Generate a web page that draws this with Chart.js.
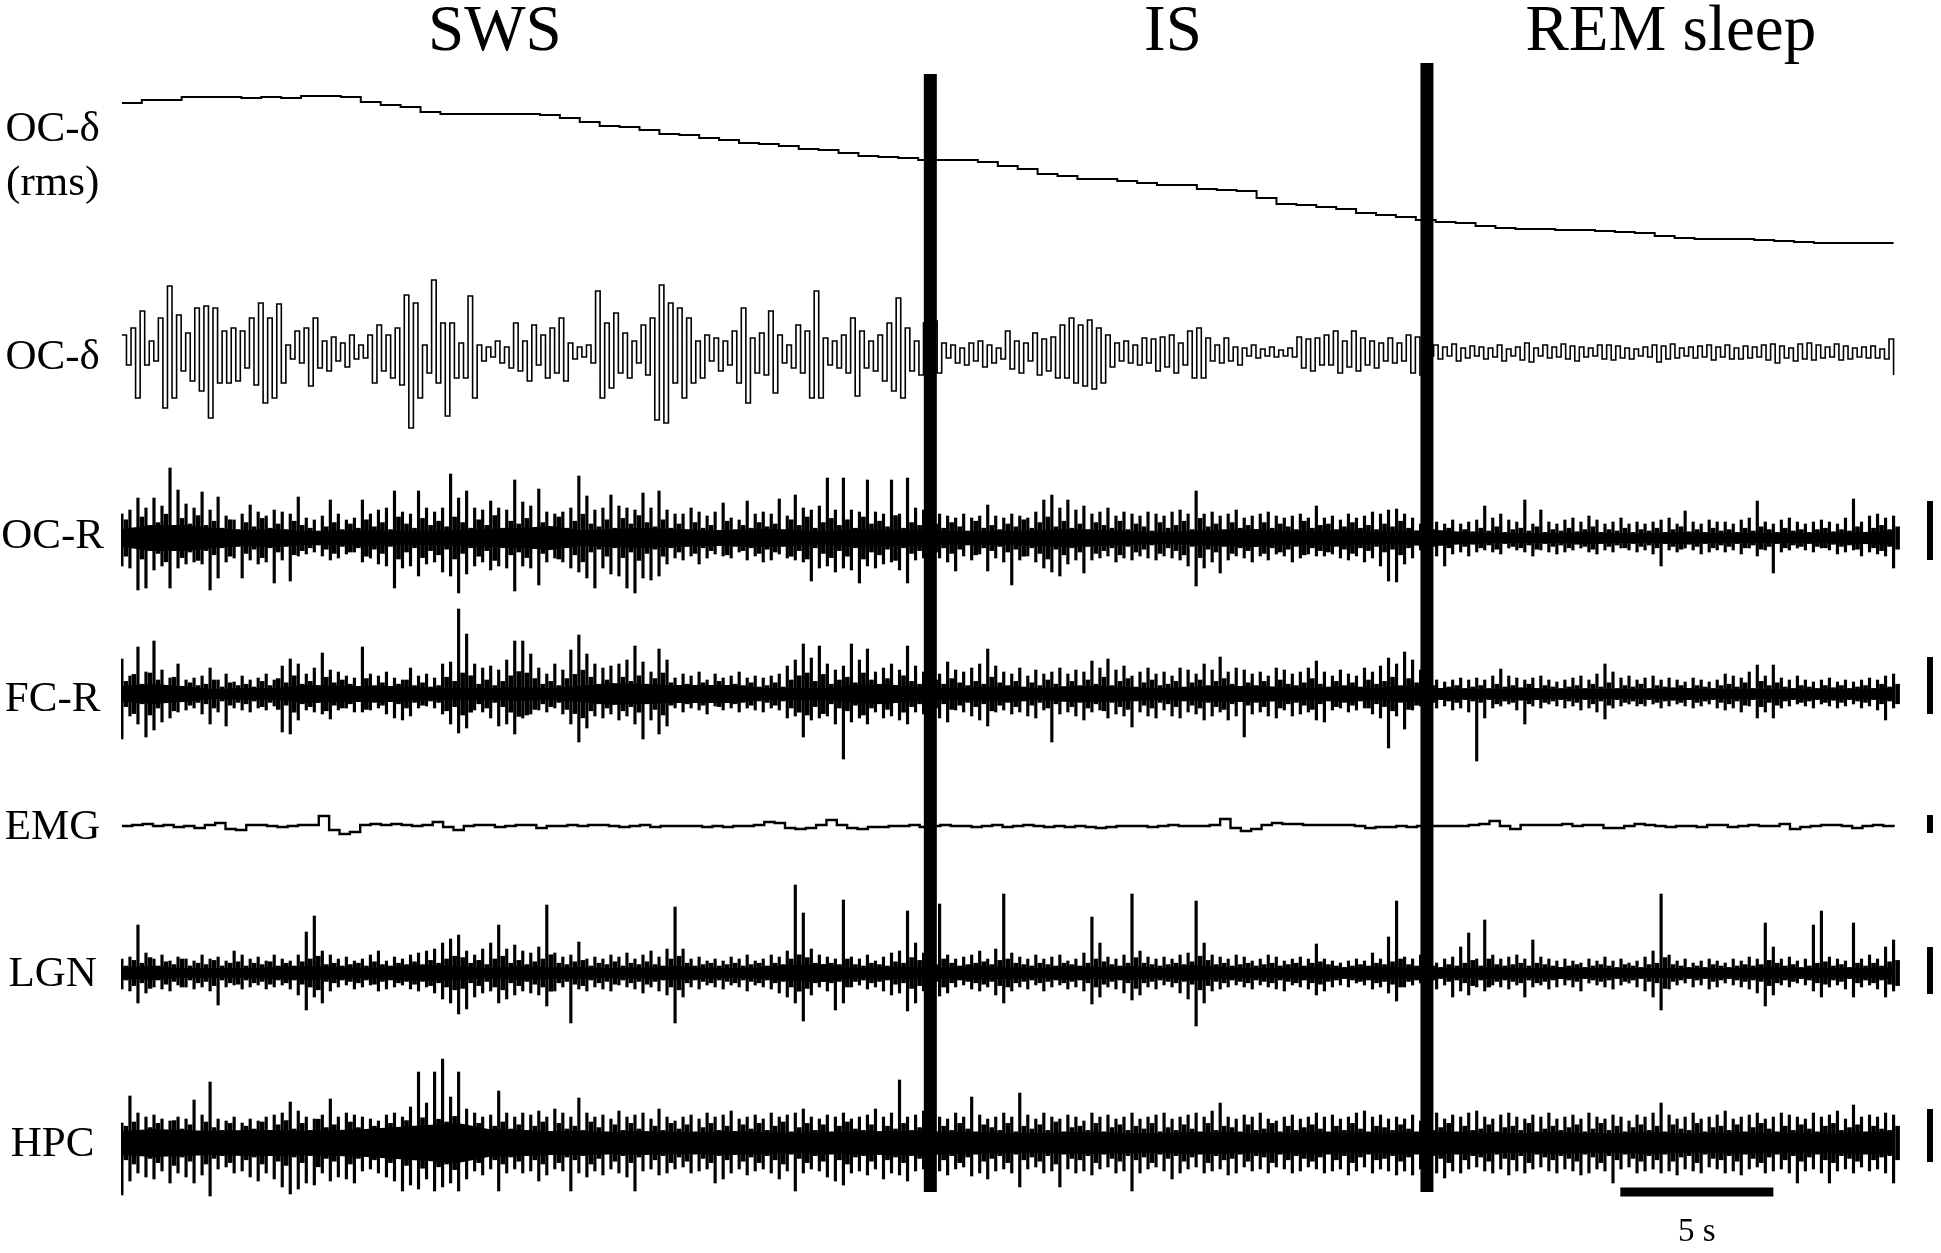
<!DOCTYPE html>
<html>
<head>
<meta charset="utf-8">
<title>Sleep traces</title>
<script src="https://cdn.jsdelivr.net/npm/chart.js@4"></script>
<style>
  html, body { margin: 0; padding: 0; background: #fff; }
  canvas { display: block; }
</style>
</head>
<body>
<canvas id="traces" width="1941" height="1253"></canvas>
<script>
// Stages and axis text
const stageLabels = ['SWS', 'IS', 'REM sleep'];
const stageCenters = [12.22, 34.38, 50.65]; // seconds
const stageEdges = [26.45, 42.68]; // seconds
const stageEdgeTops = [74, 63];
const channelLabels = [['OC-δ', '(rms)'], 'OC-δ', 'OC-R', 'FC-R', 'EMG', 'LGN', 'HPC'];
const channelLabelRows = [157, 358, 537, 700, 828, 975, 1145];

// Recording spans 57.9 s. Amplitudes are in display units above (+) or below (-) each channel's zero
const traceStart = 0.03;
const traceLength = 57.9;
const rmsZero = 250;
const deltaZero = 353;
const ocRZero = 538;
const fcRZero = 694;
const emgZero = 826;
const lgnZero = 973;
const hpcZero = 1143;

// Calibration bars at the right, and the 5 s bar
const calibTime = 59.12;
const calibTops = [501, 657, 815, 947, 1109];
const calibBottoms = [560, 714, 833, 994, 1162];
const timeBarStart = 49;
const timeBarEnd = 54;
const timeBarRow = 1192;
const edgeBottom = 1192;

const rmsLevel = [
  147, 150, 150, 153, 153, 153, 152, 153, 152, 154, 154, 153, 148, 145, 143, 138, 136, 136, 136, 136,
  136, 135, 132, 128, 124, 123, 120, 116, 115, 112, 110, 107, 106, 104, 101, 100, 97, 94, 93, 92,
  90, 90, 90, 88, 84, 81, 76, 74, 71, 71, 69, 67, 65, 65, 61, 60, 59, 52, 46, 45,
  43, 41, 37, 35, 33, 30, 28, 27, 24, 22, 21, 21, 20, 20, 19, 18, 17, 14, 12, 11,
  11, 11, 10, 9, 8, 7, 7, 7, 7, 7
];

const deltaTrace = [
  18,-12,25,-45,42,-12,12,-8,35,-55,67,-45,38,-18,20,-28,45,-38,47,-65,
  45,-30,22,-30,25,-28,22,-15,35,-32,50,-50,35,-45,49,-30,8,-6,22,-10,
  25,-33,35,-15,12,-18,16,-8,10,-14,18,-6,8,-5,18,-30,28,-18,18,-25,
  25,-32,58,-75,50,-45,8,-20,73,-30,30,-63,30,-25,10,-25,57,-45,8,-8,
  6,-4,12,-10,6,-15,30,-18,12,-28,28,-12,18,-25,25,-20,35,-28,10,-6,
  6,-4,8,-10,62,-45,30,-35,40,-20,20,-25,12,-10,28,-22,35,-67,68,-70,
  50,-30,45,-45,35,-30,12,-25,18,-8,15,-18,12,-12,22,-30,45,-50,15,-20,
  20,-22,42,-40,18,-10,8,-15,28,-20,22,-45,62,-45,15,-12,12,-15,18,-20,
  35,-43,22,-15,12,-18,18,-28,30,-38,55,-45,25,-18,12,-22,30,-20,32,-20,
  10,-5,8,-10,5,-12,10,-8,12,-14,8,-10,5,-6,22,-16,12,-20,10,-8,
  20,-22,14,-18,16,-25,28,-25,35,-30,28,-33,33,-36,25,-30,18,-14,10,-8,
  12,-10,8,-12,15,-10,14,-18,16,-14,18,-20,10,-12,22,-25,25,-25,15,-8,
  8,-10,15,-8,6,-12,5,-3,8,-5,4,-3,6,-4,3,-3,5,-4,16,-15,
  14,-18,15,-12,18,-12,22,-20,12,-14,22,-18,15,-12,12,-15,10,-8,15,-10,
  10,-8,18,-20,16,-22,4,-3,8,-6,6,-3,9,-8,5,-5,7,-3,6,-6,
  5,-4,8,-8,4,-3,6,-7,10,-9,5,-3,8,-5,6,-4,9,-6,7,-8,
  6,-4,5,-3,8,-6,8,-7,7,-5,5,-6,4,-3,6,-4,8,-9,7,-6,
  9,-5,5,-3,6,-5,7,-4,8,-7,6,-4,8,-6,5,-6,7,-5,6,-4,
  8,-7,9,-10,7,-5,5,-8,9,-6,10,-7,8,-5,6,-4,9,-7,7,-6,
  5,-4,6,-5,7,-5,4,-6,14,-22
];

const emgTrace = [
  0,1,2,0,1,-1,0,-2,1,3,-3,-4,1,1,0,-1,0,1,1,10,-4,-8,-6,1,2,1,2,1,0,1,
  4,-1,-4,0,1,1,-1,0,1,1,-2,0,0,1,0,1,1,0,-1,0,1,-1,0,0,0,0,-1,0,-1,0,
  0,1,4,3,-2,-3,-2,1,6,1,-2,-3,-1,-1,0,0,1,-1,0,1,0,0,-1,0,1,-1,0,1,0,-1,
  0,-1,0,-1,-2,-1,0,0,0,-1,0,1,0,0,0,1,7,-2,-5,-3,1,3,2,2,1,1,1,1,1,0,
  -2,-1,-1,0,-1,0,0,0,0,0,1,2,5,0,-3,1,1,1,1,2,0,1,1,-2,-2,0,2,1,0,-1,
  0,0,-1,1,1,-1,0,1,0,0,2,-3,-1,0,1,1,0,-2,0,1,0,-1
];

const ocRHigh = [
  24,28,40,30,40,32,70,48,34,30, 46,28,41,22,18,24,33,26,22,28,
  26,24,41,20,18,22,38,24,18,20, 38,24,28,30,47,26,24,47,30,26,
  30,64,40,47,30,28,37,30,28,58, 36,32,49,26,24,26,30,62,42,28,
  30,43,32,30,28,45,30,47,28,24, 24,30,26,22,26,35,20,18,37,24,
  26,24,39,22,43,30,28,32,60,28, 60,28,26,58,26,24,58,24,60,30,
  28,22,24,22,20,24,20,22,33,22, 20,24,22,20,26,38,43,30,38,28,
  32,24,26,30,22,26,24,22,26,24, 22,26,28,24,47,24,26,22,24,28,
  20,22,24,26,22,20,22,24,20,32, 20,22,18,24,20,22,26,24,28,29,
  24,20,14,12,16,14,18,14,16,18, 32,20,24,18,16,38,14,28,16,14,
  18,20,16,22,18,14,16,20,14,16, 14,16,18,20,14,27,16,14,18,16,
  16,14,18,20,37,16,14,18,20,16, 14,16,18,16,14,20,39,16,22,24,
  20,22
];
const ocRLow = [
  -28,-30,-52,-50,-32,-28,-50,-30,-26,-24, -26,-52,-40,-24,-20,-40,-22,-26,-24,-45,
  -22,-43,-18,-16,-14,-18,-22,-20,-16,-14, -24,-20,-26,-28,-50,-30,-28,-38,-26,-24,
  -34,-38,-55,-36,-28,-24,-32,-28,-30,-53, -28,-30,-47,-24,-20,-24,-30,-34,-40,-50,
  -30,-36,-38,-50,-55,-40,-42,-38,-26,-20, -22,-18,-26,-20,-16,-18,-20,-14,-22,-18,
  -24,-22,-16,-20,-22,-24,-43,-30,-28,-34, -30,-32,-45,-28,-30,-26,-24,-32,-45,-22,
  -20,-18,-20,-24,-33,-18,-22,-16,-33,-20, -24,-47,-22,-18,-24,-30,-34,-38,-26,-22,
  -35,-22,-20,-18,-24,-20,-22,-18,-20,-22, -18,-20,-22,-28,-48,-30,-24,-35,-22,-18,
  -20,-24,-18,-22,-16,-18,-24,-20,-16,-18, -18,-16,-20,-22,-18,-24,-20,-28,-43,-44,
  -26,-20,-12,-14,-18,-28,-16,-14,-18,-14, -12,-14,-16,-10,-12,-14,-18,-12,-14,-16,
  -14,-12,-10,-14,-16,-12,-14,-10,-12,-14, -12,-16,-28,-12,-14,-10,-12,-16,-14,-12,
  -14,-12,-16,-10,-18,-12,-35,-14,-12,-10, -12,-14,-10,-12,-16,-14,-12,-18,-14,-16,
  -18,-30
];
const ocRMid = [
  26,14,30,18,22,34,16,28,20,32, 18,24,14,26,12,22,16,28,14,20,
  12,24,18,14,10,16,22,12,20,14, 26,16,22,12,30,20,14,28,18,24,
  16,30,22,14,26,18,32,14,24,20, 28,12,22,16,30,14,24,34,20,16,
  26,14,28,20,32,22,16,26,14,20, 12,22,14,18,10,24,12,18,14,22,
  16,20,12,26,18,30,14,22,28,18, 26,14,30,20,24,16,32,14,22,18,
  12,20,14,22,16,10,24,14,18,12, 20,16,26,14,22,30,16,24,14,20,
  12,22,18,14,24,12,20,16,10,22, 14,18,24,12,28,16,20,12,22,14,
  18,12,22,14,20,16,12,24,14,18, 20,12,16,22,14,18,12,20,16,24,
  14,10,8,12,10,14,8,12,9,14, 10,16,8,12,14,10,16,8,12,10,
  14,9,12,16,8,12,10,14,8,12, 10,14,8,12,16,9,12,8,14,10,
  12,8,14,10,16,12,8,14,10,12, 8,12,14,9,12,10,16,8,14,18,
  12,16
];
const ocRCore = [
  9,13,13,10,8,9,7,7,8,7, 7,8,9,10,12,8,9,10,9,8, 8,9,8,7,9,8,8,
  7,7,7,8,9,8,7,6,7,8,9,7,7,8,6,7,8,
  6,5,5,5,6,5,5,6,5,5,5,5,5,6,7
];

const fcRHigh = [
  35,18,47,22,53,24,16,30,14,16, 18,26,14,20,12,18,14,16,20,14,
  28,35,30,20,26,41,24,22,18,16, 47,20,18,22,16,14,26,18,20,16,
  30,32,85,60,30,26,28,24,34,53, 53,40,26,20,30,24,44,59,40,30,
  26,28,30,34,48,32,22,45,34,16, 20,18,22,14,20,16,18,22,16,18,
  16,18,20,28,34,50,36,48,30,24, 28,50,34,45,22,26,30,24,48,28,
  22,24,20,32,24,22,26,30,45,28, 22,20,26,18,24,20,22,26,20,24,
  22,33,26,35,24,28,18,22,26,20, 22,18,26,24,20,30,24,37,22,26,
  24,20,22,18,26,24,20,22,26,33, 22,18,24,20,18,26,22,28,36,30,
  42,34,24,16,14,12,14,16,14,16, 14,18,25,18,16,14,16,18,14,12,
  14,16,18,14,20,30,22,16,18,14, 16,18,14,16,14,12,16,14,12,14,
  20,18,16,22,29,18,29,16,14,18, 14,12,14,16,12,14,12,14,16,14,
  18,20
];
const fcRLow = [
  -45,-22,-30,-43,-36,-28,-24,-18,-16,-14, -20,-30,-18,-32,-14,-16,-18,-14,-16,-12,
  -38,-40,-26,-16,-18,-20,-25,-16,-14,-18, -18,-16,-14,-20,-24,-26,-22,-14,-12,-14,
  -20,-30,-39,-34,-16,-18,-24,-32,-30,-40, -24,-20,-16,-18,-14,-20,-30,-48,-34,-22,
  -24,-20,-26,-22,-30,-45,-26,-40,-32,-14, -18,-14,-16,-20,-12,-16,-14,-18,-14,-16,
  -18,-14,-16,-24,-22,-43,-26,-24,-22,-30, -65,-28,-24,-30,-18,-24,-22,-26,-30,-18,
  -20,-18,-24,-28,-16,-18,-22,-26,-32,-18, -16,-20,-18,-22,-24,-16,-48,-20,-18,-22,
  -26,-18,-16,-24,-20,-22,-33,-18,-22,-24, -16,-22,-24,-18,-20,-26,-22,-18,-26,-22,
  -43,-20,-18,-22,-24,-16,-22,-20,-18,-26, -28,-16,-14,-18,-16,-14,-20,-24,-54,-22,
  -35,-16,-12,-10,-14,-12,-16,-14,-18,-67, -24,-14,-12,-10,-16,-30,-12,-14,-10,-12,
  -14,-12,-16,-14,-18,-25,-14,-12,-10,-12, -12,-10,-14,-12,-10,-12,-14,-12,-10,-14,
  -16,-14,-18,-12,-24,-18,-24,-14,-12,-10, -12,-14,-10,-12,-14,-12,-10,-14,-12,-16,
  -26,-14
];
const fcRMid = [
  18,28,14,30,20,12,24,10,16,12, 14,20,10,16,12,14,10,18,12,22,
  16,26,14,18,12,24,16,20,14,10, 22,12,16,10,14,20,12,16,10,12,
  24,18,30,26,14,20,12,18,26,32, 30,22,14,18,12,22,28,34,24,14,
  20,14,24,18,26,14,22,30,16,10, 14,10,16,12,18,10,14,12,16,10,
  12,16,10,20,26,30,18,28,14,20, 24,16,30,20,14,22,12,26,18,14,
  12,20,14,22,16,12,18,14,24,16, 12,18,10,16,12,20,14,10,18,12,
  20,14,24,12,18,22,10,16,20,12, 14,18,10,16,20,12,18,22,14,10,
  16,12,18,10,20,14,12,16,22,14, 10,18,12,16,10,20,14,18,24,12,
  22,16,10,12,8,10,12,8,10,12, 8,14,10,12,9,14,8,12,10,8,
  10,12,8,14,10,16,8,12,10,14, 8,12,10,9,12,8,12,10,8,12,
  14,10,16,8,18,12,16,10,8,12, 10,8,12,9,12,8,10,12,8,14,
  10,14
];
const fcRCore = [
  8,10,8,5,6,6,9,8,8,8, 6,6,6,7,6,8,11,10,9,9, 9,6,6,6,9,10,7,
  6,7,8,6,8,8,7,6,7,8,8,7,6,8,6,8,6,
  5,5,6,5,5,5,5,6,5,5,5,5,5,5,6
];

const lgnHigh = [
  14,16,48,20,14,18,12,16,14,12, 18,14,16,12,22,18,14,16,12,18,
  14,12,18,41,57,22,18,14,16,12, 14,18,22,12,16,14,18,20,22,24,
  30,34,38,22,18,24,30,48,24,28, 22,20,26,68,20,16,18,31,14,16,
  14,18,16,20,14,18,22,16,24,66, 24,14,16,12,14,12,16,14,18,12,
  14,18,16,22,88,60,24,18,16,14, 73,16,14,18,12,16,20,22,62,30,
  20,22,69,18,14,16,18,22,14,24, 79,20,16,14,18,14,16,18,12,14,
  20,56,30,16,14,18,79,22,16,14, 16,14,18,20,72,30,18,16,14,18,
  16,12,14,18,16,12,14,16,14,29, 14,12,10,12,14,12,20,14,36,72,
  16,14,18,12,10,14,16,26,40,14, 53,18,14,16,18,14,33,16,14,12,
  14,12,10,14,12,16,12,14,10,12, 16,22,79,18,12,14,10,12,14,12,
  10,14,12,16,14,50,26,14,16,12, 14,48,62,16,14,12,50,14,18,14,
  26,33
];
const lgnLow = [
  -16,-18,-30,-20,-14,-16,-18,-12,-14,-16, -14,-18,-32,-14,-12,-16,-14,-12,-16,-14,
  -12,-16,-22,-37,-24,-30,-18,-14,-12,-16, -14,-12,-18,-16,-14,-12,-16,-18,-14,-20,
  -26,-30,-41,-36,-24,-20,-18,-30,-26,-22, -18,-20,-22,-33,-18,-14,-50,-16,-18,-14,
  -16,-18,-12,-14,-16,-20,-14,-18,-22,-50, -24,-14,-16,-12,-14,-16,-12,-14,-18,-12,
  -14,-16,-20,-24,-30,-48,-22,-14,-18,-37, -30,-14,-12,-16,-14,-18,-22,-20,-38,-30,
  -18,-16,-23,-20,-14,-12,-16,-18,-14,-22, -30,-18,-14,-16,-12,-18,-14,-12,-16,-14,
  -18,-31,-24,-14,-16,-20,-27,-22,-14,-16, -12,-14,-20,-26,-53,-30,-18,-16,-14,-12,
  -14,-16,-12,-14,-16,-18,-12,-14,-16,-22, -18,-14,-12,-14,-10,-12,-16,-14,-20,-28,
  -14,-12,-10,-14,-16,-12,-24,-18,-22,-14, -18,-12,-14,-16,-12,-24,-14,-12,-16,-14,
  -12,-14,-18,-10,-12,-14,-16,-12,-10,-14, -18,-24,-37,-16,-12,-10,-14,-12,-16,-14,
  -10,-12,-14,-16,-20,-33,-22,-12,-14,-10, -12,-18,-24,-14,-12,-16,-24,-14,-12,-16,
  -24,-18
];
const lgnMid = [
  10,18,14,22,10,16,12,20,10,14, 12,18,10,14,16,10,14,12,16,10,
  14,10,16,20,24,12,14,10,12,14, 10,16,12,10,14,12,16,12,18,14,
  20,24,22,14,18,12,20,24,14,18, 12,16,20,26,14,12,16,18,10,14,
  12,16,10,14,12,16,12,10,20,24, 14,10,12,14,10,12,14,10,12,14,
  10,14,12,20,26,22,14,10,14,12, 20,12,10,14,12,10,16,14,22,18,
  14,12,20,14,10,12,14,16,12,18, 20,14,12,10,14,12,10,14,12,10,
  14,20,16,12,10,14,22,14,12,10, 12,14,12,16,24,18,12,14,10,12,
  14,10,12,14,10,12,14,10,14,16, 12,10,8,10,12,10,14,12,16,20,
  12,10,14,10,8,12,10,14,18,10, 20,12,10,12,14,10,14,12,10,8,
  10,12,8,10,12,10,8,12,10,8, 12,14,22,12,10,8,10,8,12,10,
  8,10,12,10,12,18,14,10,12,8, 10,14,16,10,12,8,14,10,14,10,
  16,18
];
const lgnCore = [
  6,7,5,5,5,6,7,6,5,7, 8,7,5,7,6,6,5,6,7,6, 5,6,8,9,5,6,6,
  6,7,6,5,7,6,7,5,8,6,5,5,6,5,6,6,5,
  5,6,5,6,5,5,5,5,5,5,6,5,5,5,6
];

const hpcHigh = [
  20,47,30,26,28,24,22,26,24,43, 28,61,24,22,26,20,24,22,26,28,
  30,41,32,26,24,28,44,26,30,28, 26,24,22,28,30,26,36,71,40,71,
  84,46,71,34,30,26,28,52,30,26, 30,28,32,26,34,30,26,45,30,26,
  28,24,32,26,28,30,24,34,26,22, 26,28,24,30,26,28,32,24,26,28,
  24,30,26,28,30,34,26,24,28,26, 30,24,26,28,34,26,30,63,26,28,
  32,28,26,24,30,26,46,28,24,26, 30,26,50,28,24,30,26,24,28,26,
  22,30,26,28,24,26,30,24,26,28, 30,24,26,28,30,26,32,40,26,24,
  28,26,30,24,22,26,28,24,26,30, 26,28,24,26,30,32,26,28,24,26,
  24,28,22,26,30,24,28,26,30,32, 26,24,28,30,26,24,28,26,30,24,
  26,28,24,30,26,24,28,26,22,28, 26,30,40,28,24,26,30,24,26,28,
  32,24,26,28,30,24,26,30,28,26, 24,30,26,28,32,24,38,26,28,26,
  30,28
];
const hpcLow = [
  -52,-38,-30,-34,-36,-28,-40,-30,-34,-40, -32,-53,-26,-24,-30,-28,-34,-38,-30,-36,
  -44,-51,-46,-40,-42,-30,-38,-34,-36,-40, -28,-26,-30,-34,-38,-48,-42,-46,-36,-48,
  -44,-40,-48,-36,-28,-32,-26,-48,-30,-26, -30,-28,-38,-32,-26,-28,-48,-30,-34,-28,
  -32,-26,-30,-34,-48,-28,-26,-32,-30,-26, -24,-30,-28,-26,-40,-36,-30,-26,-32,-28,
  -26,-30,-36,-28,-48,-30,-26,-28,-34,-38, -42,-30,-28,-32,-26,-36,-30,-32,-38,-28,
  -26,-30,-28,-32,-26,-24,-33,-30,-36,-28, -26,-30,-44,-26,-24,-30,-28,-44,-26,-30,
  -28,-32,-26,-24,-30,-28,-48,-30,-26,-24, -28,-36,-30,-26,-24,-30,-28,-26,-32,-30,
  -24,-28,-26,-30,-24,-26,-30,-28,-24,-26, -30,-28,-26,-32,-28,-24,-30,-26,-28,-32,
  -28,-32,-26,-24,-30,-35,-28,-30,-26,-24, -28,-30,-26,-32,-28,-30,-26,-24,-28,-30,
  -26,-28,-32,-30,-26,-28,-40,-26,-24,-30, -28,-26,-30,-28,-32,-26,-28,-30,-24,-26,
  -30,-28,-32,-26,-24,-30,-28,-26,-30,-40, -28,-26,-30,-40,-28,-26,-30,-24,-28,-26,
  -30,-40
];
const hpcMid = [
  24,30,16,22,28,18,32,20,26,16, 30,22,18,28,16,24,20,30,18,26,
  32,20,28,18,34,22,26,18,30,22, 16,24,20,28,18,32,24,36,22,34,
  30,38,26,20,28,18,24,30,20,26, 18,24,30,16,28,20,24,18,30,22,
  16,26,18,28,20,16,24,18,28,20, 26,16,22,28,18,24,16,26,20,28,
  18,24,30,16,22,28,18,26,16,24, 30,20,18,26,16,24,20,28,18,22,
  26,16,24,18,28,20,16,26,22,18, 28,16,24,20,26,18,30,16,22,24,
  18,28,16,22,26,18,24,20,28,16, 22,18,26,20,16,28,18,24,22,16,
  26,18,20,28,16,24,18,22,26,20, 16,24,18,28,20,16,24,22,18,26,
  20,16,24,18,22,28,16,24,18,20, 26,16,22,24,18,28,16,20,24,18,
  22,26,16,20,28,18,24,16,22,26, 18,24,16,26,20,18,28,16,22,24,
  18,26,16,22,28,20,16,24,18,26, 20,16,24,28,18,22,26,16,24,20,
  18,24
];
const hpcCore = [
  12,14,13,12,13,13,12,13,14,16, 18,20,14,13,12,12,11,12,11,11, 12,11,10,11,11,12,12,
  11,11,10,10,11,11,10,10,11,11,10,10,11,10,10,11,11,
  11,10,10,11,10,10,11,10,10,11,10,10,10,11,11
];

// Scale settings
const serif = 'Liberation Serif';
const timeMax = 59.48;
const rowTop = 68;
const rowBottom = 1205;
const midGain = 0.7; // the in-between strokes are drawn wide, so they read taller than they are

function timeAt(i, count) {
  return traceStart + i * traceLength / (count - 1);
}

function lineTrace(values, zero, width) {
  return {
    type: 'line',
    data: values.map((v, i) => ({ x: timeAt(i, values.length), y: zero - v })),
    borderColor: '#000',
    borderWidth: width,
    stepped: true,
    pointRadius: 0,
    fill: false,
    clip: false
  };
}

// solid middle of a dense channel: two edges with the fill between them
function coreBand(core, zero) {
  const edge = (sign) => core.map((v, i) => ({ x: timeAt(i, core.length), y: zero + sign * v }));
  return [
    { type: 'line', data: edge(-1), borderWidth: 0, pointRadius: 0, fill: false },
    { type: 'line', data: edge(1), borderWidth: 0, pointRadius: 0, fill: '-1', backgroundColor: '#000' }
  ];
}

// vertical strokes from each sample's low to its high
function spikes(high, low, zero) {
  return {
    type: 'bar',
    data: high.map((v, i) => ({ x: timeAt(i, high.length), y: [zero - v, zero - low[i]] })),
    backgroundColor: '#000',
    grouped: false,
    maxBarThickness: 2.5,
    barThickness: 2.5
  };
}

// the lower strokes that sit half a step between the main samples
function midStrokes(mid, zero) {
  const step = traceLength / (mid.length - 1);
  return {
    type: 'bar',
    data: mid.map((v, i) => ({
      x: timeAt(i, mid.length) + step / 2,
      y: [zero - v * midGain, zero + v * midGain]
    })),
    backgroundColor: '#000',
    grouped: false,
    maxBarThickness: 4,
    barThickness: 4
  };
}

function straightBar(x0, y0, x1, y1, width) {
  return {
    type: 'line',
    data: [{ x: x0, y: y0 }, { x: x1, y: y1 }],
    borderColor: '#000',
    borderWidth: width,
    pointRadius: 0,
    fill: false,
    clip: false
  };
}

const datasets = [
  ...stageEdges.map((t, i) => straightBar(t, stageEdgeTops[i], t, edgeBottom, 13)),
  ...calibTops.map((top, i) => straightBar(calibTime, top, calibTime, calibBottoms[i], 6)),
  straightBar(timeBarStart, timeBarRow, timeBarEnd, timeBarRow, 9),
  lineTrace(rmsLevel, rmsZero, 2),
  lineTrace(deltaTrace, deltaZero, 1.6),
  lineTrace(emgTrace, emgZero, 2.4),
  spikes(ocRHigh, ocRLow, ocRZero),
  spikes(fcRHigh, fcRLow, fcRZero),
  spikes(lgnHigh, lgnLow, lgnZero),
  spikes(hpcHigh, hpcLow, hpcZero),
  midStrokes(ocRMid, ocRZero),
  midStrokes(fcRMid, fcRZero),
  midStrokes(lgnMid, lgnZero),
  midStrokes(hpcMid, hpcZero),
  ...coreBand(ocRCore, ocRZero),
  ...coreBand(fcRCore, fcRZero),
  ...coreBand(lgnCore, lgnZero),
  ...coreBand(hpcCore, hpcZero)
];

const hiddenLines = {
  grid: { display: false, drawTicks: false },
  border: { display: false }
};

new Chart(document.getElementById('traces').getContext('2d'), {
  type: 'line',
  data: { datasets },
  options: {
    responsive: false,
    animation: false,
    layout: { padding: 0 },
    plugins: { legend: { display: false }, tooltip: { enabled: false } },
    scales: {
      x: {
        type: 'linear',
        position: 'bottom',
        offset: false,
        min: 0,
        max: timeMax,
        ...hiddenLines,
        afterFit: (s) => { s.height = 1253 - rowBottom; },
        afterBuildTicks: (s) => { s.ticks = [{ value: 51.5 }]; },
        ticks: {
          autoSkip: false,
          maxRotation: 0,
          padding: 11,
          color: '#000',
          font: { family: serif, size: 33, lineHeight: 1 },
          callback: () => '5 s'
        }
      },
      stage: {
        type: 'linear',
        axis: 'x',
        position: 'top',
        offset: false,
        min: 0,
        max: timeMax,
        ...hiddenLines,
        afterFit: (s) => { s.height = rowTop; },
        afterBuildTicks: (s) => { s.ticks = stageCenters.map((value) => ({ value })); },
        ticks: {
          autoSkip: false,
          maxRotation: 0,
          padding: 3,
          color: '#000',
          font: { family: serif, size: 65, lineHeight: 1 },
          callback: (value, index) => stageLabels[index]
        }
      },
      y: {
        type: 'linear',
        position: 'left',
        reverse: true,
        min: rowTop,
        max: rowBottom,
        ...hiddenLines,
        // tick padding would otherwise eat into the plot height
        afterFit: (s) => { s.width = 121; s.paddingTop = 0; s.paddingBottom = 0; },
        afterBuildTicks: (s) => { s.ticks = channelLabelRows.map((value) => ({ value })); },
        ticks: {
          autoSkip: false,
          crossAlign: 'center',
          padding: 17,
          color: '#000',
          font: { family: serif, size: 43, lineHeight: 1.25 },
          callback: (value, index) => channelLabels[index]
        }
      }
    }
  }
});
</script>
</body>
</html>
